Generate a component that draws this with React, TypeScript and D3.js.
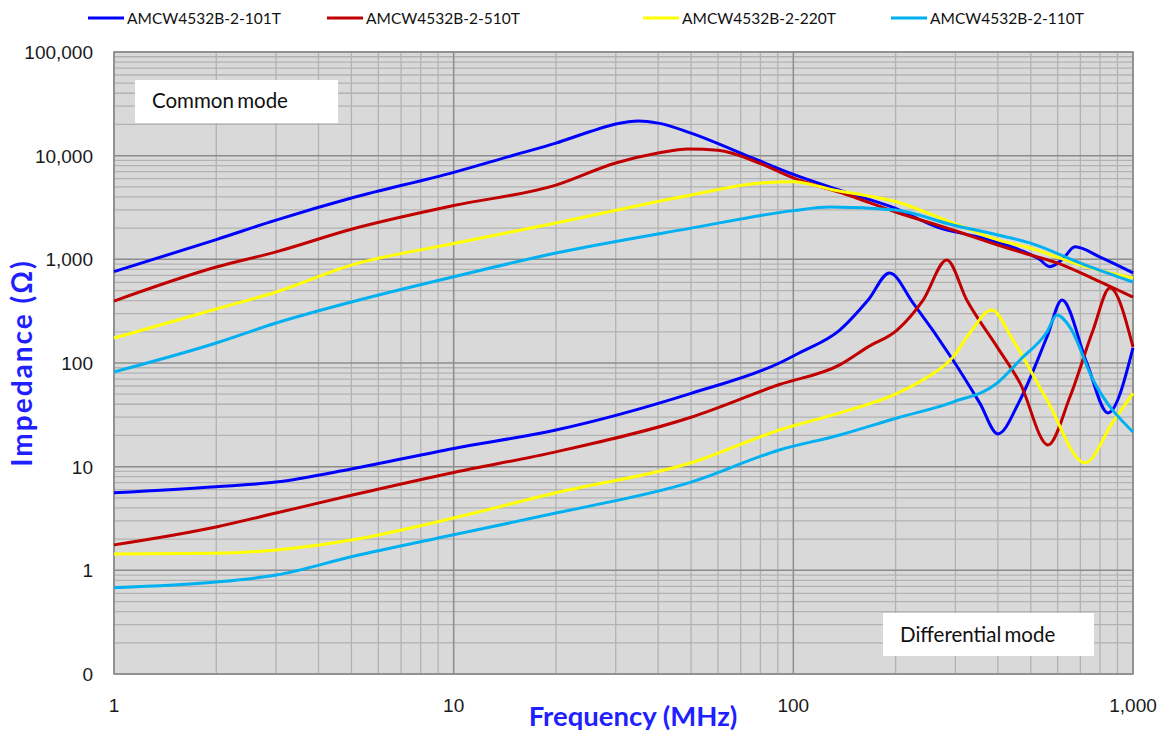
import React from "react";
import * as d3 from "d3";

// ---------- data ----------
const seriesNames = ["AMCW4532B-2-101T", "AMCW4532B-2-510T", "AMCW4532B-2-220T", "AMCW4532B-2-110T"];
const seriesColors = ["#0000ff", "#c00000", "#ffff00", "#00b0f0"];

const xTicks = [1, 10, 100, 1000];
const yTicks = [0.1, 1, 10, 100, 1000, 10000, 100000];

// Common mode
const cm101Freq = [1, 2, 3, 5, 10, 15, 20, 25, 30, 35, 40, 50, 70, 100, 144, 200, 265, 350, 465, 530, 569, 620, 675, 800, 1000];
const cm101Z = [760, 1550, 2390, 3900, 6900, 10100, 13200, 16900, 20200, 21600, 20600, 16500, 10600, 6600, 4400, 3100, 2050, 1640, 1230, 1000, 850, 1000, 1320, 1050, 740];

const cm510Freq = [1, 2, 3, 5, 10, 20, 30, 40, 49, 60, 80, 100, 144, 200, 295, 400, 500, 600, 780, 1000];
const cm510Z = [396, 843, 1180, 1950, 3300, 5200, 8500, 10600, 11600, 11300, 8400, 6100, 4200, 2860, 1920, 1375, 1100, 920, 631, 433];

const cm220Freq = [1, 2, 3, 5, 10, 20, 50, 80, 100, 130, 202, 295, 400, 497, 700, 1000];
const cm220Z = [174, 332, 484, 880, 1420, 2240, 4180, 5450, 5600, 4700, 3570, 2240, 1540, 1290, 880, 661];

const cm110Freq = [1, 2, 3, 5, 10, 20, 50, 100, 128, 200, 295, 400, 497, 700, 1000];
const cm110Z = [82, 156, 243, 388, 680, 1150, 2000, 2950, 3200, 2990, 2140, 1720, 1440, 920, 604];

// Differential mode
const dm101Freq = [1, 2, 3, 5, 10, 20, 50, 91, 104, 137, 166, 192, 225, 295, 354, 400, 465, 558, 618, 731, 844, 1000];
const dm101Z = [5.6, 6.4, 7.1, 9.5, 15, 22.6, 51, 100, 125, 208, 405, 740, 380, 107, 41, 20.7, 44, 178, 405, 100, 33, 140];

const dm510Freq = [1, 2, 3, 5, 10, 20, 50, 91, 137, 166, 202, 241, 283, 324, 398, 465, 562, 652, 763, 855, 1000];
const dm510Z = [1.76, 2.62, 3.57, 5.3, 8.8, 13.9, 30, 62, 96, 143, 208, 405, 985, 405, 143, 64, 16.2, 47, 208, 529, 143];

const dm220Freq = [1, 2, 3, 5, 10, 20, 50, 91, 137, 202, 241, 295, 331, 384, 443, 558, 722, 873, 1000];
const dm220Z = [1.44, 1.46, 1.57, 1.96, 3.2, 5.6, 10.9, 22.6, 33, 51, 69, 114, 195, 325, 167, 44, 10.9, 27, 51];

const dm110Freq = [1, 2, 3, 5, 10, 20, 50, 91, 137, 202, 295, 398, 465, 558, 597, 652, 763, 1000];
const dm110Z = [0.68, 0.77, 0.9, 1.35, 2.2, 3.57, 7.1, 14.5, 20.2, 29.5, 42, 64, 107, 199, 290, 222, 68.6, 21.6];

const curves = [
  { s: 0, f: cm101Freq, z: cm101Z },
  { s: 1, f: cm510Freq, z: cm510Z },
  { s: 2, f: cm220Freq, z: cm220Z },
  { s: 3, f: cm110Freq, z: cm110Z },
  { s: 0, f: dm101Freq, z: dm101Z },
  { s: 1, f: dm510Freq, z: dm510Z },
  { s: 2, f: dm220Freq, z: dm220Z },
  { s: 3, f: dm110Freq, z: dm110Z },
];

export default function App() {
  const W = 1160, H = 734;
  const L = 114, R = 1133, T = 52, B = 674;
  const x = d3.scaleLog().domain([1, 1000]).range([L, R]);
  const y = d3.scaleLog().domain([0.1, 100000]).range([B, T]);
  const fmt = d3.format(",.0f");

  const minorX: number[] = [];
  for (let e = 0; e < 3; e++) for (let k = 2; k <= 9; k++) minorX.push(k * Math.pow(10, e));
  const minorY: number[] = [];
  for (let e = -1; e < 5; e++) for (let k = 2; k <= 9; k++) minorY.push(k * Math.pow(10, e));

  const line = d3
    .line<[number, number]>()
    .x((d) => x(d[0]))
    .y((d) => y(d[1]))
    .curve(d3.curveMonotoneX);

  const legendX = [88, 327, 643, 891];
  const sans = "Lato, 'Open Sans', sans-serif";
  const arial = "'Liberation Sans', Arial, sans-serif";

  return (
    <svg width={W} height={H} style={{ position: "absolute", left: 0, top: 0, background: "#fff" }}>
      <rect x={0} y={0} width={W} height={H} fill="#fff" />
      <rect x={L} y={T} width={R - L} height={B - T} fill="#d9d9d9" />
      {minorX.map((v, i) => (
        <line key={"mx" + i} x1={x(v)} x2={x(v)} y1={T} y2={B} stroke="#b2b2b2" strokeWidth={1.3} />
      ))}
      {minorY.map((v, i) => (
        <line key={"my" + i} x1={L} x2={R} y1={y(v)} y2={y(v)} stroke="#b2b2b2" strokeWidth={1.3} />
      ))}
      {xTicks.map((v, i) => (
        <line key={"Mx" + i} x1={x(v)} x2={x(v)} y1={T} y2={B} stroke="#8c8c8c" strokeWidth={1.5} />
      ))}
      {yTicks.map((v, i) => (
        <line key={"My" + i} x1={L} x2={R} y1={y(v)} y2={y(v)} stroke="#8c8c8c" strokeWidth={1.5} />
      ))}
      <rect x={L} y={T} width={R - L} height={B - T} fill="none" stroke="#8c8c8c" strokeWidth={1.5} />

      {/* annotation boxes */}
      <rect x={135} y={80} width={203} height={43} fill="#fff" />
      <text x={152} y={108} fontFamily={sans} fontSize={20.5} fill="#111" wordSpacing={-2}>Common mode</text>
      <rect x={883} y={613} width={211} height={43} fill="#fff" />
      <text x={900} y={642} fontFamily={sans} fontSize={20.5} fill="#111" wordSpacing={-2}>Differential mode</text>

      {curves.map((c, i) => (
        <path
          key={"c" + i}
          d={line(c.f.map((f, j) => [f, c.z[j]] as [number, number])) || ""}
          fill="none"
          stroke={seriesColors[c.s]}
          strokeWidth={3}
          strokeLinejoin="round"
        />
      ))}

      {/* y tick labels */}
      {yTicks.map((v, i) => (
        <text key={"yt" + i} x={93} y={y(v)} dy="0.36em" textAnchor="end" fontFamily={arial} fontSize={19} fill="#1a1a1a">
          {fmt(v)}
        </text>
      ))}
      {xTicks.map((v, i) => (
        <text key={"xt" + i} x={x(v)} y={712} textAnchor="middle" fontFamily={arial} fontSize={19} fill="#1a1a1a">
          {fmt(v)}
        </text>
      ))}

      {/* axis titles */}
      <text x={633} y={726} textAnchor="middle" fontFamily={sans} fontWeight="bold" fontSize={27.5} fill="#1f1fff">
        Frequency (MHz)
      </text>
      <text transform={`translate(32,363) rotate(-90)`} textAnchor="middle" fontFamily={sans} fontWeight="bold" fontSize={28} letterSpacing={2} fill="#1f1fff">
        Impedance (Ω)
      </text>

      {/* legend */}
      {seriesNames.map((n, i) => (
        <g key={"lg" + i}>
          <line x1={legendX[i]} x2={legendX[i] + 36} y1={18} y2={18} stroke={seriesColors[i]} strokeWidth={3} />
          <text x={legendX[i] + 39} y={23.5} fontFamily={sans} fontSize={15.5} fill="#111">
            {n}
          </text>
        </g>
      ))}
    </svg>
  );
}
